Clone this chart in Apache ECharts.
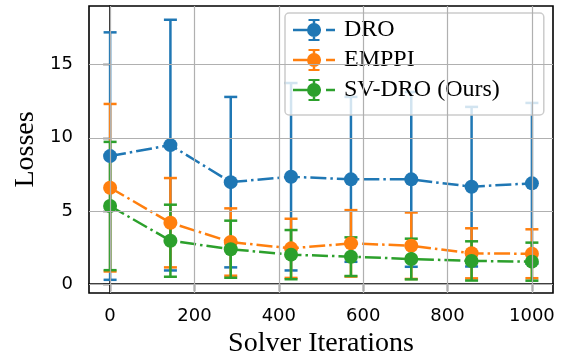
<!DOCTYPE html>
<html>
<head>
<meta charset="utf-8">
<script src="https://cdn.jsdelivr.net/npm/echarts@6/dist/echarts.min.js"></script>
<style>
    html, body { margin: 0; padding: 0; background: #fff; }
    #main { width: 573px; height: 358px; }
</style>
</head>
<body>
<div id="main"></div>
<script>
// x 坐标：求解迭代次数
var iterations = [0, 143, 286, 429, 571, 714, 857, 1000];
var xTicks = [0, 200, 400, 600, 800, 1000];
var yTicks = [0, 5, 10, 15];

// 各方法的均值与标准差
var droMean = [8.75, 9.5, 6.97, 7.34, 7.16, 7.16, 6.66, 6.89];
var droStd = [8.45, 8.56, 5.82, 6.4, 5.63, 5.97, 5.45, 5.49];
var emppiMean = [6.59, 4.2, 2.88, 2.45, 2.79, 2.63, 2.11, 2.08];
var emppiStd = [5.72, 3.05, 2.3, 2.02, 2.27, 2.27, 1.71, 1.67];
var svMean = [5.34, 2.97, 2.39, 2.02, 1.88, 1.72, 1.59, 1.54];
var svStd = [4.38, 2.46, 1.95, 1.68, 1.32, 1.39, 1.34, 1.30];

var names = ['DRO', 'EMPPI', 'SV-DRO (Ours)'];
var colors = ['#1f77b4', '#ff7f0e', '#2ca02c'];

var serif = "'Liberation Serif', 'Times New Roman', 'DejaVu Serif', serif";
var sans = "'DejaVu Sans', sans-serif";

// 图例图标：点划线 + 误差棒 + 圆点
var legendIcon = 'path://M0,9.75h28v2.5h-28Z M33,9.75h9v2.5h-9Z M19.75,0h2.5v22h-2.5Z M15.5,0h11v2h-11Z M15.5,20h11v2h-11Z M14,11a7,7 0 1,1 14,0a7,7 0 1,1 -14,0Z';

/**
 * 误差棒（竖线 + 上下帽）
 */
function renderErrorBar(params, api) {
    var x = api.value(0);
    var low = api.coord([x, api.value(2)]);
    var high = api.coord([x, api.value(3)]);
    var color = api.visual('color');
    var cap = 6.5;
    var style = { stroke: color, lineWidth: 2.5, fill: null };
    return {
        type: 'group',
        children: [
            { type: 'line', shape: { x1: low[0], y1: low[1], x2: high[0], y2: high[1] }, style: style },
            { type: 'line', shape: { x1: low[0] - cap, y1: low[1], x2: low[0] + cap, y2: low[1] }, style: style },
            { type: 'line', shape: { x1: high[0] - cap, y1: high[1], x2: high[0] + cap, y2: high[1] }, style: style }
        ]
    };
}

function buildSeries(name, color, mean, std) {
    var barData = [];
    var lineData = [];
    iterations.forEach(function (x, i) {
        barData.push([x, mean[i], mean[i] - std[i], mean[i] + std[i]]);
        lineData.push([x, mean[i]]);
    });
    return [
        {
            name: name + '_err',
            type: 'custom',
            renderItem: renderErrorBar,
            itemStyle: { color: color },
            encode: { x: 0, y: [2, 3] },
            data: barData,
            silent: true
        },
        {
            name: name,
            type: 'line',
            data: lineData,
            symbol: 'circle',
            symbolSize: 14,
            showSymbol: true,
            itemStyle: { color: color },
            lineStyle: { color: color, width: 2.5, type: [16, 4, 2.5, 4] },
            emphasis: { disabled: true }
        }
    ];
}

// 网格线（按刻度画）
var gridLines = [];
xTicks.forEach(function (v) { gridLines.push({ xAxis: v }); });
yTicks.forEach(function (v) { gridLines.push({ yAxis: v }); });

var series = [{
    name: 'grid',
    type: 'line',
    data: [],
    z: 0,
    silent: true,
    markLine: {
        silent: true,
        symbol: ['none', 'none'],
        label: { show: false },
        lineStyle: { color: '#b0b0b0', width: 1.2, type: 'solid' },
        emphasis: { disabled: true },
        animation: false,
        data: gridLines
    }
}]
    .concat(buildSeries(names[0], colors[0], droMean, droStd))
    .concat(buildSeries(names[1], colors[1], emppiMean, emppiStd))
    .concat(buildSeries(names[2], colors[2], svMean, svStd));

var myChart = echarts.init(document.getElementById('main'), null, { renderer: 'canvas' });
var option = {
    animation: false,
    backgroundColor: '#fff',
    grid: {
        left: 89, right: 20, top: 6, bottom: 65,
        outerBoundsMode: 'none',
        containLabel: false,
        show: true,
        borderColor: '#000',
        borderWidth: 1.6,
        backgroundColor: 'transparent'
    },
    legend: {
        data: names.map(function (n) { return { name: n, icon: legendIcon }; }),
        orient: 'vertical',
        left: 285,
        top: 13,
        itemWidth: 42,
        itemHeight: 22,
        itemGap: 6,
        padding: [5, 44, 13, 8],
        backgroundColor: 'rgba(255,255,255,0.8)',
        borderColor: '#cccccc',
        borderWidth: 1.5,
        borderRadius: 4,
        itemStyle: { borderWidth: 0 },
        textStyle: {
            fontFamily: serif,
            fontSize: 24,
            color: '#000',
            lineHeight: 22,
            padding: [0, 0, 0, 4]
        }
    },
    xAxis: {
        type: 'value',
        min: -50,
        max: 1050,
        name: 'Solver Iterations',
        nameLocation: 'middle',
        nameGap: 33,
        nameTextStyle: { fontFamily: serif, fontSize: 28, color: '#000' },
        axisLine: { show: true, lineStyle: { color: '#000', width: 1.6 } },
        axisTick: { show: true, customValues: xTicks, length: 7, lineStyle: { color: '#000', width: 1.4 } },
        axisLabel: {
            customValues: xTicks, fontFamily: sans, fontSize: 18, color: '#000', margin: 14,
            formatter: function (v) { return String(v); }
        },
        splitLine: { show: false }
    },
    yAxis: {
        type: 'value',
        min: -0.6,
        max: 19,
        name: 'Losses',
        nameLocation: 'middle',
        nameGap: 48,
        nameRotate: 90,
        nameTextStyle: { fontFamily: serif, fontSize: 28, color: '#000' },
        axisLine: { show: true, lineStyle: { color: '#000', width: 1.6 } },
        axisTick: { show: true, customValues: yTicks, length: 7, lineStyle: { color: '#000', width: 1.4 } },
        axisLabel: {
            customValues: yTicks, fontFamily: sans, fontSize: 18, color: '#000', margin: 16,
            formatter: function (v) { return String(v); }
        },
        splitLine: { show: false }
    },
    series: series
};
myChart.setOption(option, true);
</script>
</body>
</html>
